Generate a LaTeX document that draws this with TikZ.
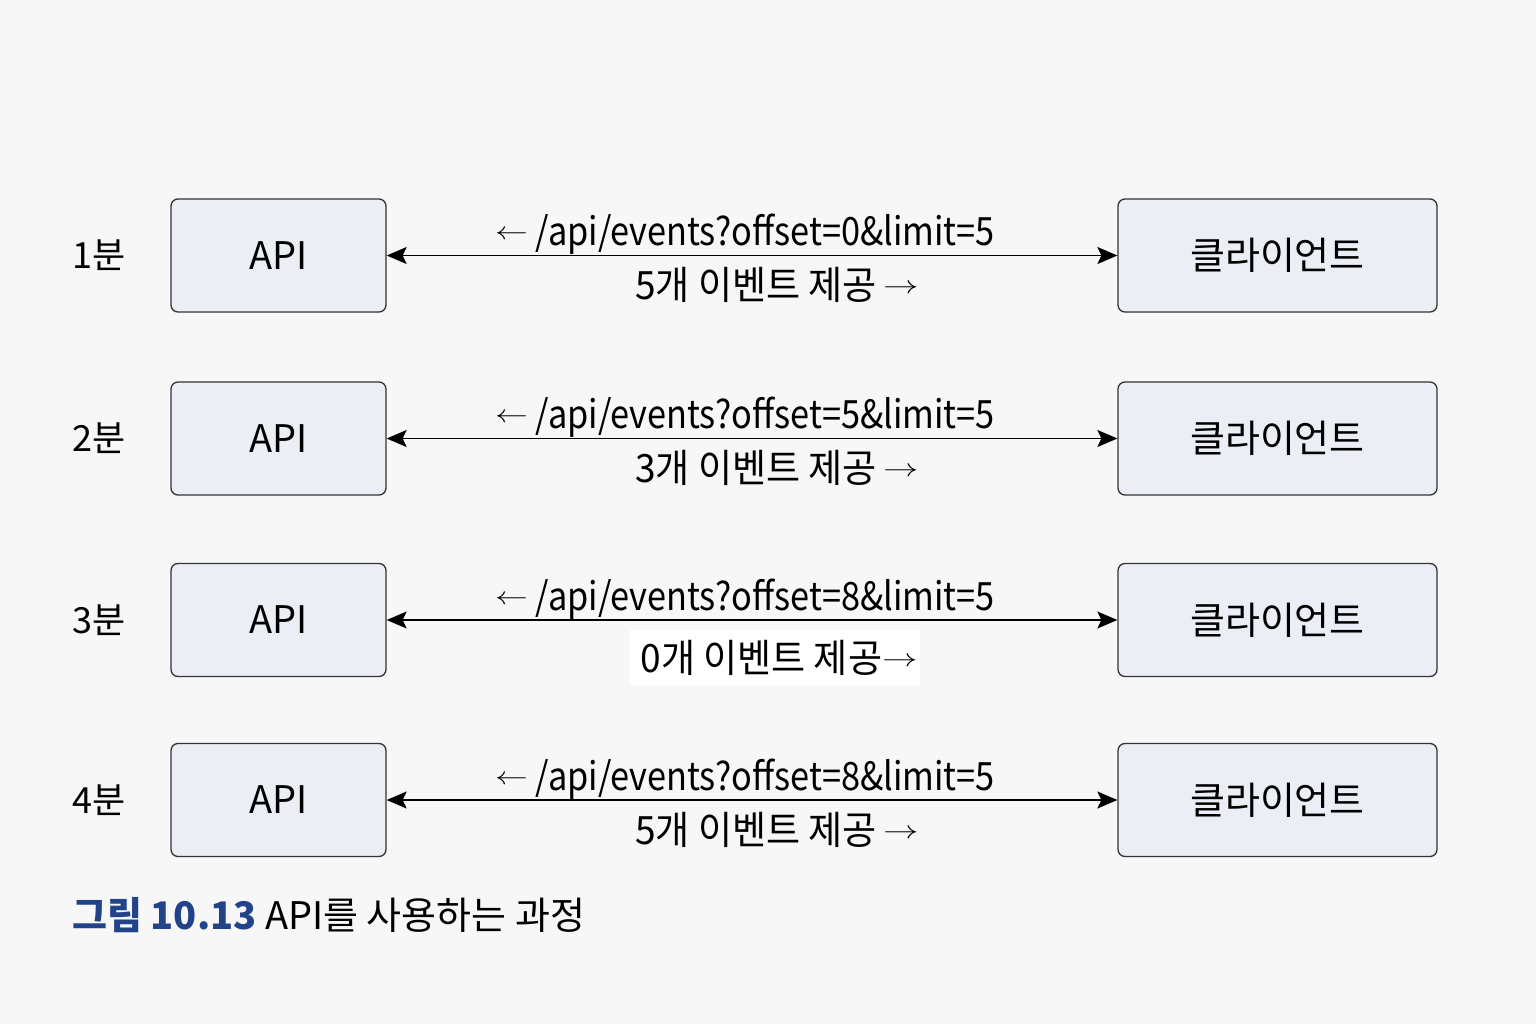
\documentclass[tikz,border=0pt]{standalone}
\usepackage{fontspec}
\setmainfont{Noto Sans CJK KR}
\usetikzlibrary{arrows.meta}
\definecolor{bgc}{HTML}{F7F7F7}
\definecolor{boxc}{HTML}{ECEEF6}
\definecolor{edgec}{HTML}{333333}
\definecolor{capblue}{HTML}{22438A}
\tikzset{
  box/.style={draw=edgec, fill=boxc, line width=1.3pt, rounded corners=7pt, minimum height=113pt, inner sep=0pt},
  apibox/.style={box, minimum width=215pt},
  clibox/.style={box, minimum width=319pt},
  conn/.style={line width=1.5pt, black, {Stealth[length=20pt,width=17pt,inset=4pt]}-{Stealth[length=20pt,width=17pt,inset=4pt]}},
  qlbl/.style={font=\fontsize{39pt}{44pt}\selectfont, inner sep=0pt, anchor=base},
  albl/.style={font=\fontsize{38pt}{44pt}\selectfont, inner sep=0pt, anchor=base},
  boxtxt/.style={font=\fontsize{38pt}{44pt}\selectfont},
  minute/.style={font=\fontsize{36pt}{42pt}\selectfont, anchor=west, inner sep=0pt},
}
\newcommand{\larr}{\raisebox{0.28ex}{\scalebox{1.5}[1]{$\leftarrow$}}}
\newcommand{\rarr}{\raisebox{0.28ex}{\scalebox{1.5}[1]{$\rightarrow$}}}
\newcommand{\sq}[1]{\scalebox{0.88}[1]{#1}}
\newcommand{\sa}[1]{\scalebox{0.95}[1]{#1}}
\begin{document}
\begin{tikzpicture}[x=1pt,y=-1pt]
\fill[bgc] (0,0) rectangle (1536,1024);
\useasboundingbox (0,0) rectangle (1536,1024);
% rows
\foreach \r/\y/\m/\off/\n in {1/255.5/1/0/5, 2/438.5/2/5/3, 4/800/4/8/5}{
  \node[apibox] (api\r) at (278.5,\y) {};
  \node[boxtxt] at (api\r.center) {API};
  \node[clibox] (cli\r) at (1277.5,\y) {};
  \node[boxtxt] at (cli\r.center) {클라이언트};
  \node[minute] (min\r) at (72,\y) {{\m}분};
  \draw[conn] (api\r.east) -- (cli\r.west);
  \node[qlbl] (q\r) at (745,\y-10) {\sq{\larr{} /api/events?offset=\off\&limit=5}};
  \node[qlbl] (a\r) at (777,\y+44) {\sa{{\n}개 이벤트 제공\,\rarr}};
}
\node[apibox] (api3) at (278.5,620) {};
\node[boxtxt] at (api3.center) {API};
\node[clibox] (cli3) at (1277.5,620) {};
\node[boxtxt] at (cli3.center) {클라이언트};
\node[minute] (min3) at (72,620) {3분};
\draw[conn] (api3.east) -- (cli3.west);
\node[qlbl] (q3) at (745,610) {\sq{\larr{} /api/events?offset=8\&limit=5}};
\node[fill=white, minimum width=290pt, minimum height=55pt, inner sep=0pt] (wb3) at (775,657.5) {};
\node[qlbl] (a3) at (779,672) {\sa{0개 이벤트 제공\rarr}};
% caption
\node[anchor=west, inner sep=0pt, font=\fontsize{38pt}{44pt}\selectfont] (cap) at (72,915)
  {\textcolor{capblue}{\bfseries 그림 10.13} API를 사용하는 과정};
\end{tikzpicture}
\end{document}
